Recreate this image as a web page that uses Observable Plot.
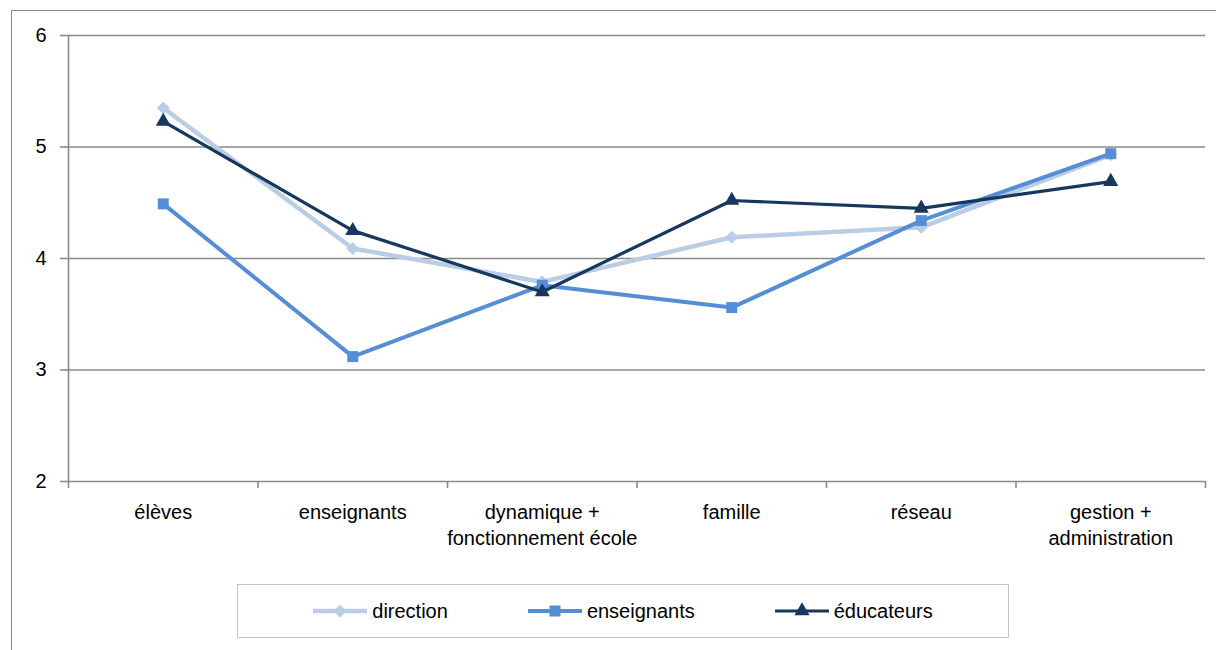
<!DOCTYPE html>
<html lang="fr">
<head>
<meta charset="utf-8">
<script src="https://cdn.jsdelivr.net/npm/d3@7"></script>
<script src="https://cdn.jsdelivr.net/npm/@observablehq/plot@0.6"></script>
<style>
  html, body { margin: 0; padding: 0; background: #fff; }
  body { width: 1216px; height: 650px; position: relative; overflow: hidden;
         font-family: "Liberation Sans", Arial, sans-serif; }
  #frame { position: absolute; left: 11px; top: 10px; width: 1300px; height: 700px;
           border: 1.5px solid #8a8a8a; box-sizing: border-box; }
  #chart { position: absolute; left: 0; top: 0; }
  #legend { position: absolute; left: 237px; top: 584px; width: 772px; height: 54px;
            box-sizing: border-box; border: 1.5px solid #c4c4c4; background: #fff;
            display: flex; align-items: center; justify-content: center; gap: 80px; }
  .item { display: flex; align-items: center; gap: 5px; font-size: 20px; color: #000; }
  .item svg { display: block; }
</style>
</head>
<body>
<div id="frame"></div>
<div id="chart"></div>
<div id="legend"></div>
<script>
// Categories on the horizontal axis
const categories = [
  "élèves",
  "enseignants",
  "dynamique +\nfonctionnement école",
  "famille",
  "réseau",
  "gestion +\nadministration"
];

// Mean scores per respondent group
const direction   = [5.35, 4.09, 3.79, 4.19, 4.28, 4.93];
const enseignants = [4.49, 3.12, 3.76, 3.56, 4.34, 4.94];
const educateurs  = [5.23, 4.25, 3.70, 4.52, 4.45, 4.69];

const seriesNames = ["direction", "enseignants", "éducateurs"];
const yTicks = [2, 3, 4, 5, 6];

// Series styling
const styles = [
  {color: "#b9cde5", width: 4.5, symbol: "diamond2", r: 5.9},
  {color: "#558ed5", width: 4, symbol: "square", r: 6.2},
  {color: "#17375e", width: 3.2, symbol: "triangle", r: 5.6}
];
const seriesValues = [direction, enseignants, educateurs];

// Long-format table: one row per category and group
const rows = seriesValues.flatMap((vals, s) =>
  vals.map((v, i) => ({series: seriesNames[s], pos: i + 0.5, value: v}))
);

// Category boundaries for the axis tick marks
const boundaries = d3.range(categories.length + 1);

const gridColor = "#8a8a8a";

const marks = [
  Plot.gridY(yTicks, {stroke: gridColor, strokeOpacity: 1, strokeWidth: 1.6}),
  Plot.ruleX([0], {stroke: gridColor, strokeWidth: 1.6}),
  Plot.axisY(yTicks, {tickSize: 8, tickPadding: 14, stroke: gridColor, strokeWidth: 1.6,
                      fill: "#000", fontSize: 20, tickFormat: d => String(d), label: null}),
  Plot.axisX(boundaries, {tickSize: 7, stroke: gridColor, strokeWidth: 1.6,
                          tickFormat: () => "", label: null}),
  Plot.text(categories, {x: (d, i) => i + 0.5, frameAnchor: "bottom", dy: 19,
                         lineAnchor: "top", lineHeight: 1.3, fontSize: 20, fill: "#000"})
];

seriesNames.forEach((name, s) => {
  const data = rows.filter(d => d.series === name);
  const st = styles[s];
  marks.push(
    Plot.line(data, {x: "pos", y: "value", stroke: st.color, strokeWidth: st.width,
                     strokeLinejoin: "round", strokeLinecap: "round"}),
    Plot.dot(data, {x: "pos", y: "value", symbol: st.symbol, r: st.r, fill: st.color, stroke: "none"})
  );
});

const chart = Plot.plot({
  width: 1216,
  height: 650,
  marginLeft: 68,
  marginRight: 11,
  marginTop: 35,
  marginBottom: 169,
  style: {fontFamily: "'Liberation Sans', Arial, sans-serif", fontSize: "20px",
          background: "transparent", color: "#000", overflow: "visible"},
  x: {domain: [0, categories.length], axis: null},
  y: {domain: [2, 6], axis: null},
  marks
});
document.getElementById("chart").appendChild(chart);

// Legend
const legend = d3.select("#legend");
const symbolTypes = {diamond2: d3.symbolDiamond2, square: d3.symbolSquare, triangle: d3.symbolTriangle};
seriesNames.forEach((name, s) => {
  const st = styles[s];
  const item = legend.append("div").attr("class", "item");
  const svg = item.append("svg").attr("width", 54).attr("height", 20);
  svg.append("line").attr("x1", 0).attr("x2", 54).attr("y1", 10).attr("y2", 10)
    .attr("stroke", st.color).attr("stroke-width", st.width);
  svg.append("path")
    .attr("transform", "translate(27,10)")
    .attr("d", d3.symbol(symbolTypes[st.symbol], st.r * st.r * Math.PI)())
    .attr("fill", st.color);
  item.append("span").text(name);
});
</script>
</body>
</html>
